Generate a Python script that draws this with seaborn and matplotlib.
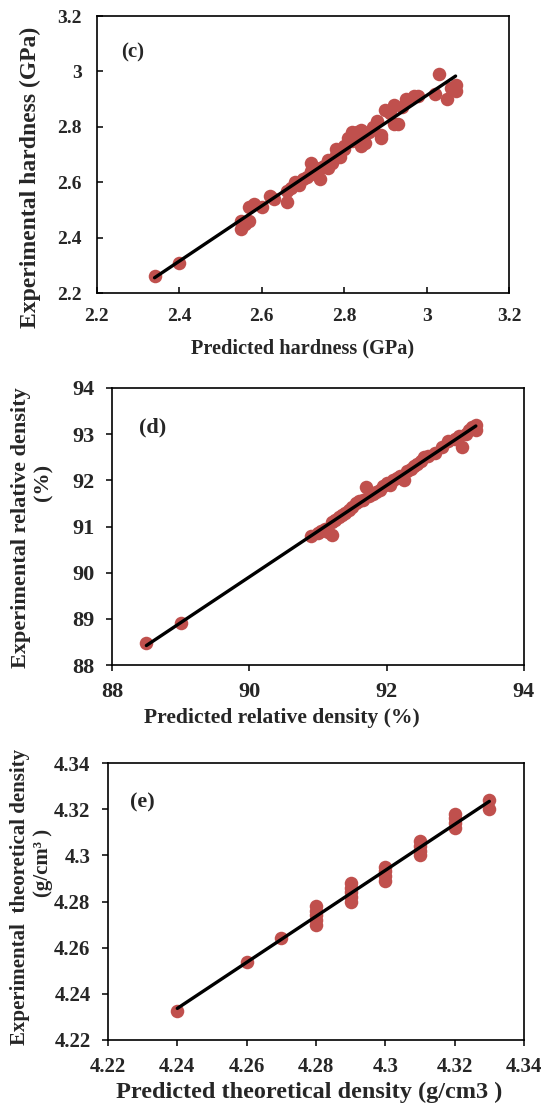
import numpy as np
import pandas as pd
import matplotlib
matplotlib.use("Agg")
import matplotlib.pyplot as plt
from matplotlib.ticker import FuncFormatter, MultipleLocator
import seaborn as sns

# ---------------- data ----------------
hard_pred = [2.34, 2.40, 2.55, 2.55, 2.56, 2.57, 2.58, 2.57, 2.60, 2.62, 2.63, 2.66,
             2.66, 2.67, 2.68, 2.69, 2.70, 2.71, 2.72, 2.72, 2.73, 2.74, 2.75, 2.76,
             2.77, 2.78, 2.78, 2.79, 2.80, 2.81, 2.82, 2.83, 2.84, 2.85, 2.84, 2.86,
             2.87, 2.88, 2.89, 2.90, 2.91, 2.92, 2.92, 2.93, 2.94, 2.95, 2.97, 2.98,
             3.03, 3.02, 3.05, 3.06, 3.07, 3.07, 2.89, 2.80, 2.76, 2.74, 2.82, 2.83]
hard_exp = [2.26, 2.31, 2.43, 2.46, 2.45, 2.46, 2.52, 2.51, 2.51, 2.55, 2.54, 2.53,
            2.57, 2.58, 2.60, 2.59, 2.61, 2.62, 2.64, 2.67, 2.63, 2.65, 2.66, 2.68,
            2.67, 2.70, 2.72, 2.69, 2.73, 2.76, 2.75, 2.78, 2.79, 2.74, 2.73, 2.78,
            2.80, 2.82, 2.77, 2.86, 2.85, 2.88, 2.81, 2.81, 2.87, 2.90, 2.91, 2.91,
            2.99, 2.92, 2.90, 2.94, 2.95, 2.93, 2.76, 2.72, 2.65, 2.61, 2.78, 2.77]

rd_pred = [88.5, 89.0, 90.9, 91.0, 91.05, 91.1, 91.15, 91.2, 91.2, 91.25, 91.3, 91.35,
           91.4, 91.45, 91.5, 91.55, 91.6, 91.65, 91.7, 91.75, 91.8, 91.85, 91.9, 91.95,
           92.0, 92.05, 92.1, 92.15, 92.2, 92.25, 92.3, 92.35, 92.4, 92.45, 92.5, 92.55,
           92.6, 92.7, 92.8, 92.9, 93.0, 93.05, 93.1, 93.15, 93.2, 93.25, 93.3, 93.3]
rd_exp = [88.48, 88.92, 90.80, 90.85, 90.90, 90.95, 90.88, 90.82, 91.10, 91.15, 91.20, 91.25,
          91.30, 91.35, 91.42, 91.50, 91.55, 91.58, 91.85, 91.65, 91.70, 91.75, 91.80, 91.88,
          91.95, 91.90, 92.00, 92.05, 92.10, 92.00, 92.20, 92.25, 92.30, 92.35, 92.42, 92.50,
          92.52, 92.60, 92.72, 92.85, 92.90, 92.95, 92.72, 93.00, 93.10, 93.15, 93.20, 93.10]

td_pred = [4.24, 4.26, 4.27,
           4.28, 4.28, 4.28, 4.28, 4.28,
           4.29, 4.29, 4.29, 4.29, 4.29,
           4.30, 4.30, 4.30, 4.30,
           4.31, 4.31, 4.31, 4.31,
           4.32, 4.32, 4.32, 4.32,
           4.33, 4.33]
td_exp = [4.2325, 4.254, 4.264,
          4.270, 4.272, 4.274, 4.276, 4.278,
          4.280, 4.282, 4.284, 4.286, 4.288,
          4.289, 4.291, 4.293, 4.295,
          4.300, 4.302, 4.304, 4.306,
          4.312, 4.314, 4.316, 4.318,
          4.320, 4.324]

# ---------------- style ----------------
sns.set_theme(style="white")
plt.rcParams["font.family"] = ["Liberation Serif", "DejaVu Serif"]
plt.rcParams["font.weight"] = "bold"
plt.rcParams["axes.labelweight"] = "bold"

RED = "#C0504D"

fig = plt.figure(figsize=(5.44, 11.06), dpi=100)


def fmt(v, pos):
    return f"{v:.2f}".rstrip("0").rstrip(".")


def panel(rect, x, y, xlim, ylim, xstep, ystep, tick_dir, tag, tag_xy,
          xlabel, xlab_xy, ylabel, ylab_xy, ylabel2=None, ylab2_xy=None,
          pad=9, tick_fs=14, xlab_fs=14.5, ylab_fs=14.5, tag_fs=15):
    ax = fig.add_axes(rect)
    df = pd.DataFrame({"x": x, "y": y})
    sns.regplot(data=df, x="x", y="y", ax=ax, ci=None, truncate=True,
                scatter_kws=dict(s=95, color=RED, alpha=1, linewidths=0),
                line_kws=dict(color="black", lw=2.4))
    ax.set_xlim(*xlim)
    ax.set_ylim(*ylim)
    ax.xaxis.set_major_locator(MultipleLocator(xstep))
    ax.yaxis.set_major_locator(MultipleLocator(ystep))
    ax.xaxis.set_major_formatter(FuncFormatter(fmt))
    ax.yaxis.set_major_formatter(FuncFormatter(fmt))
    for sp in ax.spines.values():
        sp.set_visible(True)
        sp.set_color("black")
        sp.set_linewidth(1.2)
    ax.tick_params(axis="both", direction=tick_dir, length=4.5, width=1.1,
                   color="black", labelsize=tick_fs, pad=pad,
                   bottom=True, left=True, top=False, right=False)
    for lab in ax.get_xticklabels() + ax.get_yticklabels():
        lab.set_fontweight("bold")
    ax.set_xlabel(xlabel, fontsize=xlab_fs, fontweight="bold")
    ax.xaxis.set_label_coords(*xlab_xy)
    ax.xaxis.label.set_va("center")
    ax.set_ylabel(ylabel, fontsize=ylab_fs, fontweight="bold")
    ax.yaxis.set_label_coords(*ylab_xy)
    ax.yaxis.label.set_va("center")
    if ylabel2:
        ax.text(ylab2_xy[0], ylab2_xy[1], ylabel2, transform=ax.transAxes,
                rotation=90, ha="center", va="center", fontsize=ylab_fs,
                fontweight="bold")
    ax.text(tag_xy[0], tag_xy[1], tag, transform=ax.transAxes, ha="center",
            va="center", fontsize=tag_fs, fontweight="bold")
    return ax


panel([0.178, 0.735, 0.758, 0.2505], hard_pred, hard_exp, (2.2, 3.2), (2.2, 3.2),
      0.2, 0.2, "in", "(c)", (0.087, 0.870),
      "Predicted hardness (GPa)", (0.5, -0.199),
      "Experimental hardness (GPa)", (-0.160, 0.419), pad=11,
      tick_fs=14, xlab_fs=14.6, ylab_fs=17.0, tag_fs=15)

panel([0.206, 0.3987, 0.757, 0.2505], rd_pred, rd_exp, (88, 94), (88, 94),
      2, 1, "out", "(d)", (0.0995, 0.856),
      "Predicted relative density (%)", (0.413, -0.191),
      "Experimental relative density", (-0.222, 0.496),
      ylabel2="(%)", ylab2_xy=(-0.166, 0.66), pad=8,
      tick_fs=16, xlab_fs=15.6, ylab_fs=16, tag_fs=16)

panel([0.1985, 0.0597, 0.7647, 0.2504], td_pred, td_exp, (4.22, 4.34), (4.22, 4.34),
      0.02, 0.02, "out", "(e)", (0.082, 0.856),
      "Predicted theoretical density (g/cm3 )", (0.483, -0.188),
      "Experimental  theoretical density", (-0.212, 0.516),
      ylabel2="(g/cm³ )", ylab2_xy=(-0.157, 0.64), pad=8,
      tick_fs=15, xlab_fs=17.5, ylab_fs=15.0, tag_fs=16)

fig.savefig("out.png", dpi=100)
